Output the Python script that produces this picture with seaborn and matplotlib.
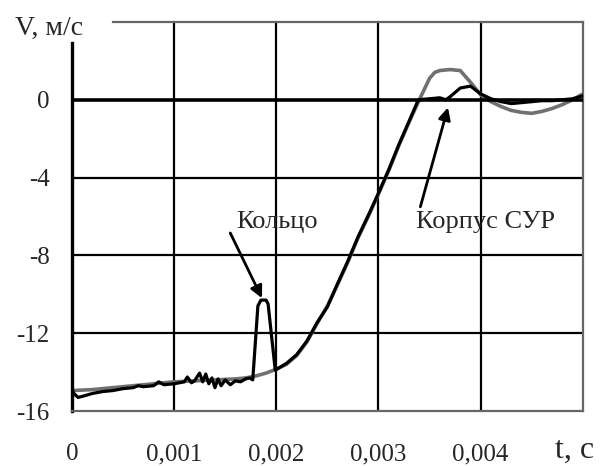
import matplotlib
matplotlib.use("Agg")
import pandas as pd
import matplotlib.pyplot as plt
import seaborn as sns

# кольцо (чёрная кривая)
t_ring = [0.0, 0.00002, 0.00006, 0.0001, 0.0002, 0.0003, 0.0004, 0.0005, 0.0006, 0.00065,
          0.0007, 0.0008, 0.00085, 0.0009, 0.001, 0.00105, 0.0011, 0.00113, 0.00117, 0.0012,
          0.00125, 0.00128, 0.00131, 0.00134, 0.00137, 0.0014, 0.00143, 0.00146, 0.0015, 0.00155,
          0.0016, 0.00165, 0.0017, 0.00174, 0.00177, 0.00182, 0.00185, 0.0019, 0.00192, 0.00199,
          0.0021, 0.0022, 0.0023, 0.0024, 0.0025, 0.0026, 0.0027, 0.0028, 0.0029, 0.003,
          0.0031, 0.0032, 0.0033, 0.00339, 0.0035, 0.0036, 0.00366, 0.0037, 0.0038, 0.0039,
          0.004, 0.0041, 0.0042, 0.0043, 0.0044, 0.0045, 0.0046, 0.0047, 0.0048, 0.0049, 0.005]
v_ring = [-14.9, -15.1, -15.3, -15.25, -15.1, -15.0, -14.95, -14.85, -14.8, -14.7,
          -14.75, -14.7, -14.5, -14.65, -14.6, -14.55, -14.5, -14.25, -14.55, -14.45,
          -14.05, -14.5, -14.1, -14.6, -14.3, -14.8, -14.35, -14.7, -14.4, -14.65,
          -14.45, -14.5, -14.35, -14.3, -14.4, -10.6, -10.3, -10.3, -10.5, -13.9,
          -13.55, -13.1, -12.4, -11.45, -10.65, -9.45, -8.3, -7.05, -5.95, -4.8,
          -3.6, -2.3, -1.1, 0.0, 0.05, 0.1, 0.0, 0.15, 0.6, 0.7,
          0.3, 0.05, -0.1, -0.2, -0.15, -0.1, -0.05, -0.05, 0.0, 0.05, 0.2]

# корпус СУР (серая кривая)
t_body = [0.0, 0.0002, 0.0004, 0.0006, 0.0008, 0.001, 0.0012, 0.0014, 0.0016, 0.0017,
          0.0018, 0.0019, 0.002, 0.0021, 0.0022, 0.0023, 0.0024, 0.0025, 0.0026, 0.0027,
          0.0028, 0.0029, 0.003, 0.0031, 0.0032, 0.0033, 0.0034, 0.0035, 0.00355, 0.0036,
          0.0037, 0.0038, 0.00385, 0.0039, 0.004, 0.0041, 0.0042, 0.0043, 0.0044, 0.0045,
          0.0046, 0.0047, 0.0048, 0.0049, 0.005]
v_body = [-14.95, -14.9, -14.8, -14.7, -14.6, -14.5, -14.45, -14.4, -14.35, -14.3,
          -14.2, -14.05, -13.85, -13.6, -13.15, -12.45, -11.5, -10.6, -9.5, -8.35,
          -7.1, -6.0, -4.85, -3.65, -2.35, -1.15, 0.0, 1.1, 1.4, 1.5,
          1.55, 1.5, 1.2, 0.9, 0.25, -0.1, -0.35, -0.55, -0.65, -0.7,
          -0.6, -0.45, -0.25, 0.0, 0.3]

x_ticks = [0.0, 0.001, 0.002, 0.003, 0.004]
x_labels = ["0", "0,001", "0,002", "0,003", "0,004"]
y_ticks = [-16, -12, -8, -4, 0]
y_labels = ["-16", "-12", "-8", "-4", "0"]

sns.set_style("white")
plt.rcParams['font.family'] = ['Liberation Serif', 'DejaVu Serif']

df_ring = pd.DataFrame({'t': t_ring, 'v': v_ring})
df_body = pd.DataFrame({'t': t_body, 'v': v_body})

fig = plt.figure(figsize=(6.04, 4.66), dpi=100)
ax = fig.add_axes([0.119, 0.118, 0.846, 0.835])

# сетка
for x in x_ticks[1:]:
    ax.axvline(x, color='black', lw=1.6, zorder=1)
for y in y_ticks[1:-1]:
    ax.axhline(y, color='black', lw=1.6, zorder=1)

sns.lineplot(data=df_body, x='t', y='v', color='#707070', lw=2.6, ax=ax, zorder=2)
ax.axhline(0, color='black', lw=2.6, zorder=3)
sns.lineplot(data=df_ring, x='t', y='v', color='black', lw=2.3, ax=ax, zorder=4)

ax.set_xlim(0, 0.005)
ax.set_ylim(-16, 4)
ax.set_xticks(x_ticks)
ax.set_xticklabels(x_labels)
ax.set_yticks(y_ticks)
ax.set_yticklabels(y_labels)
ax.set_xlabel('')
ax.set_ylabel('')
ax.tick_params(axis='x', length=0, pad=23, labelsize=18)
ax.tick_params(axis='y', length=7, width=2.2, pad=9, labelsize=18, color='black')

ax.spines['left'].set_color('black')
ax.spines['left'].set_linewidth(2.4)
ax.spines['left'].set_bounds(-16, 2.9)
ax.spines['top'].set_bounds(0.0004, 0.005)
for s in ['top', 'right', 'bottom']:
    ax.spines[s].set_color('#666666')
    ax.spines[s].set_linewidth(1.6)
    ax.spines[s].set_visible(True)

fig.text(15 / 604, 1 - 28 / 466, 'V, м/с', fontsize=20, va='center', ha='left')
fig.text(594 / 604, 1 - 450 / 466, 't, c', fontsize=23, va='center', ha='right')

ax.text(0.00201, -6.3, 'Кольцо', fontsize=19, ha='center', va='center')
ax.text(0.00405, -6.3, 'Корпус СУР', fontsize=19, ha='center', va='center')

arrow = dict(arrowstyle='-|>', lw=2, color='black', mutation_scale=18, shrinkA=0, shrinkB=0)
ax.annotate('', xy=(0.00186, -10.2), xytext=(0.00155, -6.85), arrowprops=arrow, zorder=5)
ax.annotate('', xy=(0.00368, -0.4), xytext=(0.00341, -5.5), arrowprops=arrow, zorder=5)

fig.savefig('out.png', dpi=100)
plt.close()
